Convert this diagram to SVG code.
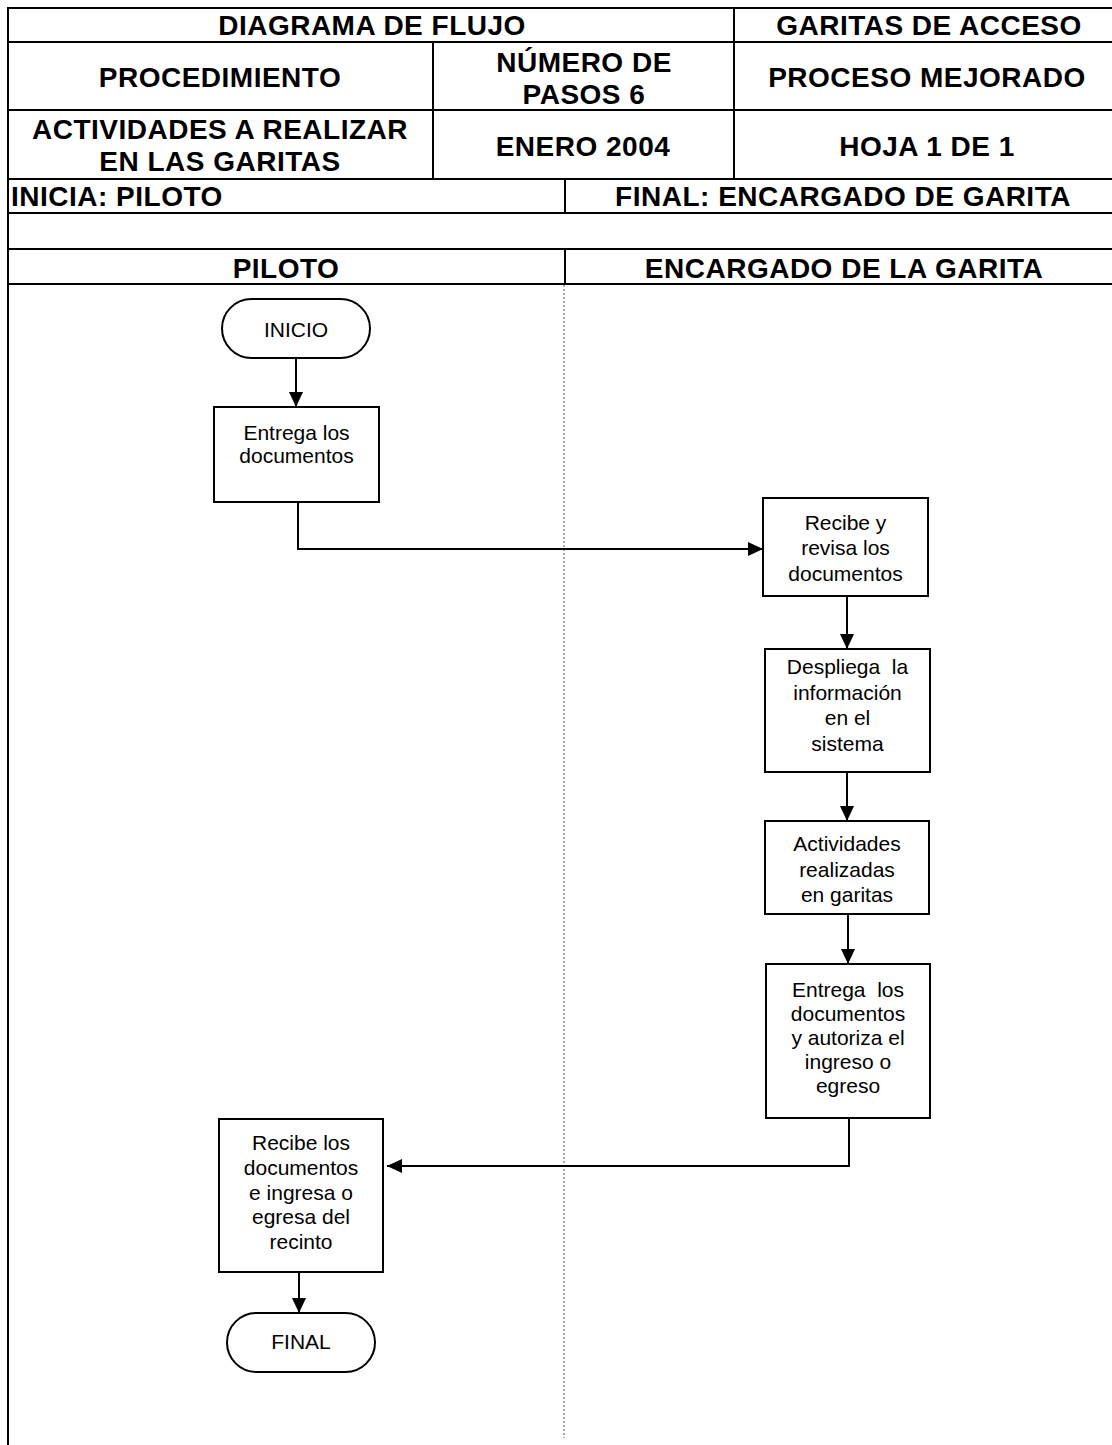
<svg xmlns="http://www.w3.org/2000/svg" width="1112" height="1445" viewBox="0 0 1112 1445">
  <style>
    .grid { stroke: #000; stroke-width: 2; fill: none; }
    .hdr { font-family: "Liberation Sans", Arial, sans-serif; font-weight: bold; font-size: 28px; letter-spacing: 0.5px; fill: #000; }
    .mid { text-anchor: middle; }
    .box { fill: #fff; stroke: #000; stroke-width: 2; }
    .lbl { font-family: "Liberation Sans", Arial, sans-serif; font-size: 21px; fill: #000; text-anchor: middle; white-space: pre; }
    .conn { stroke: #000; stroke-width: 2; fill: none; }
    .lane { stroke: #555; stroke-width: 1; stroke-dasharray: 2 2; fill: none; }
  </style>
  <defs>
    <marker id="arrow" markerWidth="14" markerHeight="15" refX="15" refY="7" orient="auto" markerUnits="userSpaceOnUse">
      <path d="M0,0 L15,7 L0,14 Z" fill="#000"/>
    </marker>
  </defs>

  <rect width="1112" height="1445" fill="#fff"/>

  <!-- header table -->
  <g id="header">
    <line class="grid" x1="8" y1="8" x2="1112" y2="8"/>
    <line class="grid" x1="8" y1="42" x2="1112" y2="42"/>
    <line class="grid" x1="8" y1="110" x2="1112" y2="110"/>
    <line class="grid" x1="8" y1="179" x2="1112" y2="179"/>
    <line class="grid" x1="8" y1="213" x2="1112" y2="213"/>
    <line class="grid" x1="8" y1="249" x2="1112" y2="249"/>
    <line class="grid" x1="8" y1="284" x2="1112" y2="284"/>
    <line class="grid" x1="8" y1="7" x2="8" y2="1445"/>
    <line class="grid" x1="734" y1="8" x2="734" y2="179"/>
    <line class="grid" x1="433" y1="42" x2="433" y2="179"/>
    <line class="grid" x1="565" y1="179" x2="565" y2="213"/>
    <line class="grid" x1="565" y1="249" x2="565" y2="284"/>

    <text class="hdr mid" x="372" y="35">DIAGRAMA DE FLUJO</text>
    <text class="hdr mid" x="929" y="35">GARITAS DE ACCESO</text>
    <text class="hdr mid" x="220" y="87">PROCEDIMIENTO</text>
    <text class="hdr mid" x="584" y="72">NÚMERO DE</text>
    <text class="hdr mid" x="584" y="104">PASOS 6</text>
    <text class="hdr mid" x="927" y="87">PROCESO MEJORADO</text>
    <text class="hdr mid" x="220" y="139">ACTIVIDADES A REALIZAR</text>
    <text class="hdr mid" x="220" y="171">EN LAS GARITAS</text>
    <text class="hdr mid" x="583" y="156">ENERO 2004</text>
    <text class="hdr mid" x="927" y="156">HOJA 1 DE 1</text>
    <text class="hdr" x="11" y="206">INICIA: PILOTO</text>
    <text class="hdr mid" x="843" y="206">FINAL: ENCARGADO DE GARITA</text>
    <text class="hdr mid" x="286" y="278">PILOTO</text>
    <text class="hdr mid" x="844" y="278">ENCARGADO DE LA GARITA</text>
  </g>

  <!-- swimlane divider -->
  <line class="lane" x1="564" y1="285" x2="564" y2="1438"/>

  <!-- connectors -->
  <g id="connectors">
    <line class="conn" x1="296" y1="358" x2="296" y2="407" marker-end="url(#arrow)"/>
    <polyline class="conn" points="298,502 298,549 763,549" marker-end="url(#arrow)"/>
    <line class="conn" x1="847" y1="596" x2="847" y2="649" marker-end="url(#arrow)"/>
    <line class="conn" x1="847" y1="772" x2="847" y2="821" marker-end="url(#arrow)"/>
    <line class="conn" x1="848" y1="914" x2="848" y2="964" marker-end="url(#arrow)"/>
    <polyline class="conn" points="849,1116 849,1166 387,1166" marker-end="url(#arrow)"/>
    <line class="conn" x1="299" y1="1272" x2="299" y2="1313" marker-end="url(#arrow)"/>
  </g>

  <g id="inicio">
    <rect class="box" x="222" y="299" width="148" height="59" rx="29.5" ry="29.5"/>
    <text class="lbl" x="296" y="337">INICIO</text>
  </g>

  <g id="entrega-documentos">
    <rect class="box" x="214" y="407" width="165" height="95"/>
    <text class="lbl" x="296.5" y="440">Entrega los</text>
    <text class="lbl" x="296.5" y="463">documentos</text>
  </g>

  <g id="recibe-revisa">
    <rect class="box" x="763" y="498" width="165" height="98"/>
    <text class="lbl" x="845.5" y="530">Recibe y</text>
    <text class="lbl" x="845.5" y="555">revisa los</text>
    <text class="lbl" x="845.5" y="581">documentos</text>
  </g>

  <g id="despliega-informacion">
    <rect class="box" x="765" y="649" width="165" height="123"/>
    <text class="lbl" x="847.5" y="674">Despliega  la</text>
    <text class="lbl" x="847.5" y="700">información</text>
    <text class="lbl" x="847.5" y="725">en el</text>
    <text class="lbl" x="847.5" y="751">sistema</text>
  </g>

  <g id="actividades-garitas">
    <rect class="box" x="765" y="821" width="164" height="93"/>
    <text class="lbl" x="847" y="851">Actividades</text>
    <text class="lbl" x="847" y="877">realizadas</text>
    <text class="lbl" x="847" y="902">en garitas</text>
  </g>

  <g id="entrega-autoriza">
    <rect class="box" x="766" y="964" width="164" height="154"/>
    <text class="lbl" x="848" y="997">Entrega  los</text>
    <text class="lbl" x="848" y="1021">documentos</text>
    <text class="lbl" x="848" y="1045">y autoriza el</text>
    <text class="lbl" x="848" y="1069">ingreso o</text>
    <text class="lbl" x="848" y="1093">egreso</text>
  </g>

  <g id="recibe-ingresa">
    <rect class="box" x="219" y="1119" width="164" height="153"/>
    <text class="lbl" x="301" y="1150">Recibe los</text>
    <text class="lbl" x="301" y="1175">documentos</text>
    <text class="lbl" x="301" y="1200">e ingresa o</text>
    <text class="lbl" x="301" y="1224">egresa del</text>
    <text class="lbl" x="301" y="1249">recinto</text>
  </g>

  <g id="final">
    <rect class="box" x="227" y="1313" width="148" height="59" rx="29.5" ry="29.5"/>
    <text class="lbl" x="301" y="1349">FINAL</text>
  </g>
</svg>
